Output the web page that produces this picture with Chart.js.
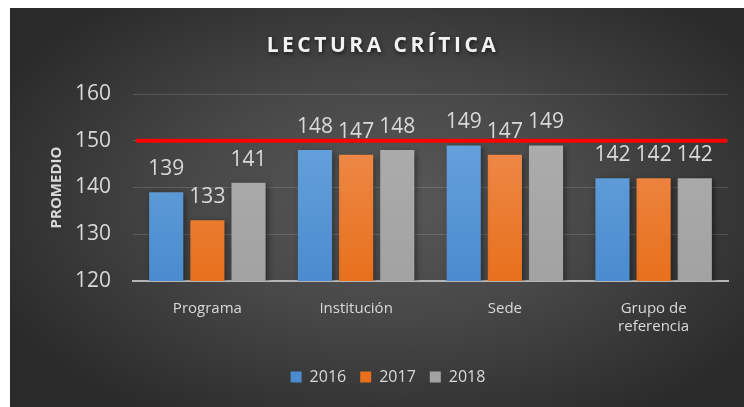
<!DOCTYPE html>
<html>
<head>
<meta charset="utf-8">
<script src="https://cdn.jsdelivr.net/npm/chart.js@4"></script>
<style>
  html, body { margin: 0; padding: 0; background: #fff; }
  body { width: 744px; height: 407px; position: relative; overflow: hidden; }
  #wrap {
    position: absolute; left: 10px; top: 8px; width: 734px; height: 399px;
    background: radial-gradient(ellipse 60% 65% at 52% 48%, #585858 0%, #484848 45%, #2a2a2a 100%);
  }
</style>
</head>
<body>
<div id="wrap"><canvas id="chart" width="734" height="399"></canvas></div>
<script>
// ================= DATA =================
const categories = ['Programa', 'Institución', 'Sede', ['Grupo de', 'referencia']];
const years = ['2016', '2017', '2018'];
const values2016 = [139, 148, 149, 142];
const values2017 = [133, 147, 147, 142];
const values2018 = [141, 148, 149, 142];
const referenceLine = 150;
const yTicks = { min: 120, max: 160, step: 10 };
const chartTitle = 'LECTURA CRÍTICA';
const yTitle = 'PROMEDIO';

const textColor = '#d9d9d9';
const fontFamily = '"Open Sans", "Noto Sans", sans-serif';

// top / bottom colors of each series
const seriesColors = [
    ['#6ea7de', '#4a8ccf'],
    ['#f09257', '#e8701c'],
    ['#afafaf', '#a2a2a2']
];

function barFill(i) {
    return (ctx) => {
        const area = ctx.chart.chartArea;
        if (!area) return seriesColors[i][1];
        const g = ctx.chart.ctx.createLinearGradient(0, area.top, 0, area.bottom);
        g.addColorStop(0, seriesColors[i][0]);
        g.addColorStop(1, seriesColors[i][1]);
        return g;
    };
}

// ================= PLUGINS =================
const titlePlugin = {
    id: 'customTitle',
    afterDraw(chart) {
        const c = chart.ctx;
        c.save();
        c.font = 'bold 21px ' + fontFamily;
        c.letterSpacing = '3.5px';
        c.textAlign = 'center';
        c.textBaseline = 'middle';
        c.shadowColor = 'rgba(0,0,0,0.6)';
        c.shadowBlur = 4;
        c.shadowOffsetX = 1;
        c.shadowOffsetY = 2;
        c.fillStyle = '#f2f2f2';
        c.fillText(chartTitle, chart.width / 2 + 6, 38);
        c.restore();
    }
};

const shadowPlugin = {
    id: 'barShadow',
    beforeDatasetsDraw(chart) {
        const c = chart.ctx;
        c.save();
        c.shadowColor = 'rgba(0,0,0,0.45)';
        c.shadowBlur = 6;
        c.shadowOffsetX = 2;
        c.shadowOffsetY = 2;
    },
    afterDatasetsDraw(chart) {
        chart.ctx.restore();
    }
};

const overlayPlugin = {
    id: 'overlay',
    afterDatasetsDraw(chart) {
        const c = chart.ctx;
        const area = chart.chartArea;
        const y = chart.scales.y;

        // red reference line
        const ry = y.getPixelForValue(referenceLine);
        c.save();
        c.strokeStyle = '#ff0000';
        c.lineWidth = 4;
        c.beginPath();
        c.moveTo(area.left + 3, ry);
        c.lineTo(area.right - 1, ry);
        c.stroke();

        // value labels
        c.font = '21px ' + fontFamily;
        c.fillStyle = textColor;
        c.textAlign = 'center';
        c.textBaseline = 'alphabetic';
        chart.data.datasets.forEach((ds, i) => {
            chart.getDatasetMeta(i).data.forEach((bar, j) => {
                c.fillText(ds.data[j], bar.x, bar.y - 17);
            });
        });
        c.restore();
    }
};

// ================= CHART =================
const allValues = [values2016, values2017, values2018];

new Chart(document.getElementById('chart'), {
    type: 'bar',
    data: {
        labels: categories,
        datasets: years.map((yr, i) => ({
            label: yr,
            data: allValues[i],
            backgroundColor: barFill(i),
            borderWidth: 0,
            categoryPercentage: 0.83,
            barPercentage: 0.83
        }))
    },
    options: {
        responsive: false,
        animation: false,
        layout: { padding: { top: 86, left: 38, right: 16, bottom: 12 } },
        plugins: {
            title: { display: false },
            tooltip: { enabled: false },
            legend: {
                position: 'bottom',
                labels: {
                    color: textColor,
                    font: { family: fontFamily, size: 16 },
                    boxWidth: 11,
                    boxHeight: 11,
                    padding: 14,
                    generateLabels: (chart) => years.map((yr, i) => ({
                        text: yr,
                        fillStyle: seriesColors[i][1],
                        strokeStyle: seriesColors[i][1],
                        lineWidth: 0,
                        fontColor: textColor,
                        datasetIndex: i
                    }))
                }
            }
        },
        scales: {
            x: {
                grid: { display: false, drawTicks: false },
                border: { color: '#b5b5b5', width: 2 },
                ticks: {
                    color: textColor,
                    font: { family: fontFamily, size: 15 },
                    padding: 19,
                    maxRotation: 0
                },
                afterFit: (scale) => { scale.height = 74; }
            },
            y: {
                min: yTicks.min,
                max: yTicks.max,
                grid: { color: 'rgba(255,255,255,0.14)', drawTicks: false },
                border: { display: false },
                ticks: {
                    stepSize: yTicks.step,
                    color: textColor,
                    font: { family: fontFamily, size: 21 },
                    padding: 22
                },
                title: {
                    display: true,
                    text: yTitle,
                    color: textColor,
                    font: { family: fontFamily, size: 15, weight: 'bold' },
                    padding: { top: 0, bottom: 0 }
                },
                afterFit: (scale) => { scale.width = 85; }
            }
        }
    },
    plugins: [shadowPlugin, overlayPlugin, titlePlugin]
});
</script>
</body>
</html>
